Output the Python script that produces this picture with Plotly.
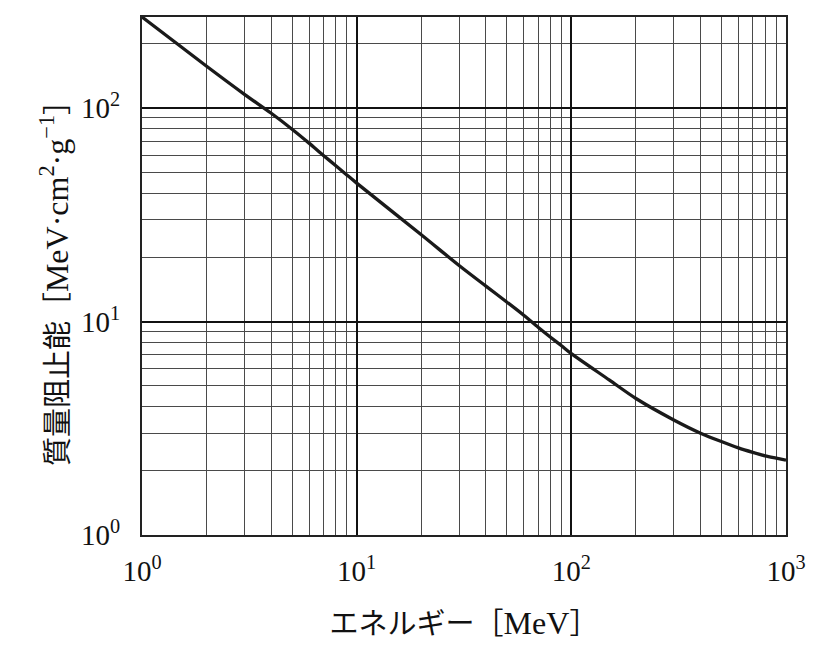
import plotly.graph_objects as go

# energy [MeV] and mass stopping power [MeV cm^2 / g]
energy = [1, 2, 3, 4, 5, 6, 7, 8, 9, 10, 20, 30, 40, 50, 60, 70, 80, 90,
          100, 150, 200, 300, 400, 500, 600, 700, 800, 900, 1000]
stopping_power = [267, 157, 116, 94.5, 79.6, 68.5, 60.0, 53.7, 48.6, 44.5, 25.5, 18.3, 14.65, 12.35,
                  10.7, 9.4, 8.44, 7.7, 7.07, 5.33, 4.36, 3.46, 3.0, 2.74, 2.56, 2.44, 2.35,
                  2.29, 2.24]

x_tickvals = [1, 10, 100, 1000]
x_ticktext = ["10<sup>0</sup>", "10<sup>1</sup>", "10<sup>2</sup>", "10<sup>3</sup>"]
y_tickvals = [1, 10, 100]
y_ticktext = ["10<sup>0</sup>", "10<sup>1</sup>", "10<sup>2</sup>"]

LATIN = '<span style="font-size:32px">%s</span>'
x_title = "エネルギー［" + LATIN % "MeV" + "］"
y_title = ("質量阻止能［" + LATIN % "MeV·cm<sup>2</sup>·g<sup>−1</sup>" + "］")

FONT = "Liberation Serif, Noto Sans CJK JP, serif"

# 2..9 in each decade for the minor grid
minor_vals = [m * 10 ** d for d in range(3) for m in range(2, 10)]

fig = go.Figure()
fig.add_trace(go.Scatter(
    x=energy, y=stopping_power, mode="lines",
    line=dict(color="#1a1a1a", width=3.3, shape="spline", smoothing=0.8),
    showlegend=False, hoverinfo="skip",
))

axis_common = dict(
    type="log",
    showline=True, mirror=True, linecolor="#222222", linewidth=2,
    showgrid=True, gridcolor="#111111", gridwidth=2,
    ticks="", zeroline=False,
    tickfont=dict(family=FONT, size=29, color="#111111"),
    title_font=dict(family=FONT, size=29, color="#111111"),
    minor=dict(tickmode="array", tickvals=minor_vals, showgrid=True,
               gridcolor="#4a4a4a", gridwidth=1.2, ticks=""),
    tickmode="array",
)

fig.update_xaxes(
    **axis_common,
    range=[0, 3],
    tickvals=x_tickvals, ticktext=x_ticktext,
    ticklabelstandoff=9,
    title=dict(text=x_title, standoff=28),
)
fig.update_yaxes(
    **axis_common,
    range=[0, 2.4265],
    tickvals=y_tickvals, ticktext=y_ticktext,
    ticklabelstandoff=14,
    title=dict(text=y_title, standoff=4),
)

# the page puts the figure 8px in from the top-left corner
fig.update_layout(
    width=827, height=663,
    margin=dict(l=134, r=49, t=7, b=136),
    paper_bgcolor="white", plot_bgcolor="white",
    font=dict(family=FONT, color="#111111"),
)

fig.write_html("out.html")
